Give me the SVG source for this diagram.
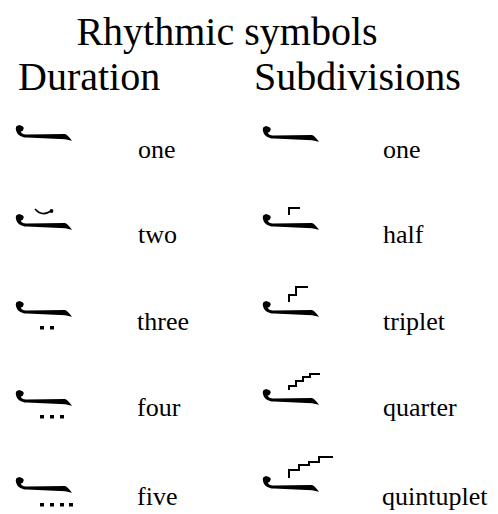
<svg xmlns="http://www.w3.org/2000/svg" width="498" height="514" viewBox="0 0 498 514">
<defs>
<style>
.t{font-family:"Liberation Serif","Times New Roman",serif;fill:#000}
.h{font-size:40px}
.l{font-size:26px}
.d{fill:#000}
.st{fill:none;stroke:#000;stroke-width:2;stroke-linejoin:miter;stroke-linecap:butt}
</style>
<g id="base">
<ellipse cx="4.6" cy="3.6" rx="3.8" ry="3.2" fill="#000"/>
<path d="M1,3.5 C1,1.2 3,0 5,0.4 C7,0.8 8.6,2 9,3.4 L6.8,3.6 C5.8,3.4 5.2,3.8 5.2,5 C5.6,8.2 8,9.6 12,9.6 L49,9 C51,9 52.5,10 57,15.8 L50,14.2 L12,12.6 C5,12.4 1,9 1,3.5 Z" fill="#000"/>
</g>
</defs>
<rect width="498" height="514" fill="#fff"/>
<g id="title"><text class="t h" x="227" y="45" text-anchor="middle">Rhythmic symbols</text></g>
<g id="hdr-duration"><text class="t h" x="18" y="90">Duration</text></g>
<g id="hdr-subdivisions"><text class="t h" x="254" y="90">Subdivisions</text></g>

<g id="dur-one">
<use href="#base" x="15" y="125"/>
<text class="t l" x="138" y="158">one</text>
</g>
<g id="dur-two">
<use href="#base" x="15" y="214"/>
<path d="M35,209 Q42,217 51,211" fill="none" stroke="#000" stroke-width="1.6"/>
<circle cx="51.5" cy="211" r="1.9" fill="#000"/>
<text class="t l" x="138" y="243">two</text>
</g>
<g id="dur-three">
<use href="#base" x="15" y="301"/>
<rect class="d" x="40" y="326" width="4" height="3.5"/>
<rect class="d" x="50" y="326" width="4" height="3.5"/>
<text class="t l" x="137" y="330">three</text>
</g>
<g id="dur-four">
<use href="#base" x="15" y="390"/>
<rect class="d" x="40" y="415" width="4" height="3.5"/>
<rect class="d" x="50" y="415" width="4" height="3.5"/>
<rect class="d" x="60" y="415" width="4" height="3.5"/>
<text class="t l" x="137" y="416">four</text>
</g>
<g id="dur-five">
<use href="#base" x="15" y="477"/>
<rect class="d" x="40" y="503" width="4" height="3.5"/>
<rect class="d" x="50" y="503" width="4" height="3.5"/>
<rect class="d" x="60" y="503" width="4" height="3.5"/>
<rect class="d" x="69" y="503" width="4" height="3.5"/>
<text class="t l" x="137" y="505">five</text>
</g>

<g id="sub-one">
<use href="#base" x="262" y="126"/>
<text class="t l" x="383" y="158">one</text>
</g>
<g id="sub-half">
<use href="#base" x="262" y="214"/>
<path class="st" d="M289,215 V208 H300"/>
<text class="t l" x="383" y="243">half</text>
</g>
<g id="sub-triplet">
<use href="#base" x="262" y="301"/>
<path class="st" d="M289,302 V295 H296 V287 H308"/>
<text class="t l" x="383" y="330">triplet</text>
</g>
<g id="sub-quarter">
<use href="#base" x="262" y="389"/>
<path class="st" d="M289,390 V386 H296 V381 H303 V377 H310 V374 H320"/>
<text class="t l" x="383" y="416">quarter</text>
</g>
<g id="sub-quintuplet">
<use href="#base" x="262" y="476"/>
<path class="st" d="M289,478 V470 H299 V465 H309 V462 H319 V457 H333"/>
<text class="t l" x="382" y="505">quintuplet</text>
</g>
</svg>
